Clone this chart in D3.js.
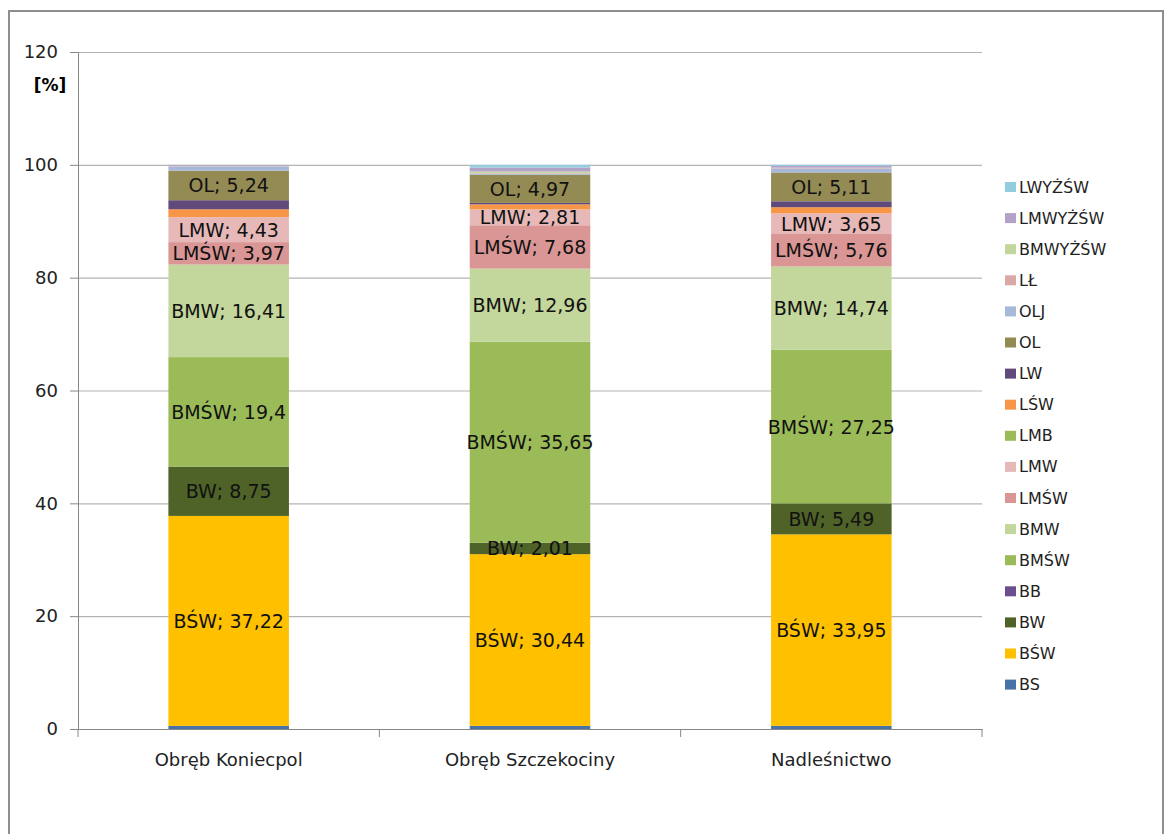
<!DOCTYPE html>
<html>
<head>
<meta charset="utf-8">
<script src="https://cdn.jsdelivr.net/npm/d3@7/dist/d3.min.js"></script>
<style>
  body { margin: 0; background: #fff; }
  svg { font-family: "DejaVu Sans", "Open Sans", sans-serif; }
</style>
</head>
<body>
<svg id="chart" width="1170" height="834"></svg>
<script>
const categories = ["Obręb Koniecpol", "Obręb Szczekociny", "Nadleśnictwo"]
const seriesNames = ["BS", "BŚW", "BW", "BB", "BMŚW", "BMW", "LMŚW", "LMW", "LMB", "LŚW", "LW", "OL", "OLJ", "LŁ", "BMWYŻŚW", "LMWYŻŚW", "LWYŻŚW"]
const seriesColors = ["#4672A8", "#FFC000", "#4F6228", "#6A4F8C", "#9BBB59", "#C3D69B", "#D99694", "#E6B9B8", "#9BBB59", "#F79646", "#604A7B", "#948A54", "#A6B9DB", "#DBA8A8", "#C3D69B", "#B3A2C7", "#93CDDD"]
// values per category, same order as seriesNames
const valuesKoniecpol = [0.55, 37.22, 8.75, 0, 19.4, 16.41, 3.97, 4.43, 0, 1.4, 1.6, 5.24, 0.75, 0.15, 0, 0.08, 0.05]
const valuesSzczekociny = [0.55, 30.44, 2.01, 0, 35.65, 12.96, 7.68, 2.81, 0, 0.9, 0.25, 4.97, 0.2, 0.1, 0.3, 0.7, 0.47]
const valuesNadlesnictwo = [0.55, 33.95, 5.49, 0, 27.25, 14.74, 5.76, 3.65, 0, 1.1, 1.05, 5.11, 0.7, 0.15, 0, 0.3, 0.2]
const labelledSeries = ["BŚW", "BW", "BMŚW", "BMW", "LMŚW", "LMW", "OL"]
const yTicks = [0, 20, 40, 60, 80, 100, 120]

const svg = d3.select("#chart")
const plot = {left: 78, right: 982, top: 52, bottom: 729}

const rows = [valuesKoniecpol, valuesSzczekociny, valuesNadlesnictwo].map((vals, i) => {
    let row = {cat: categories[i]}
    seriesNames.forEach((s, j) => row[s] = vals[j])
    return row
})

const stacked = d3.stack().keys(seriesNames)(rows)

const x = d3.scaleBand().domain(categories).range([plot.left, plot.right]).paddingInner(0.6).paddingOuter(0.3)
const y = d3.scaleLinear().domain([0, 120]).range([plot.bottom, plot.top])
const color = d3.scaleOrdinal().domain(seriesNames).range(seriesColors)

// outer frame
svg.append("rect")
    .attr("x", 9).attr("y", 11).attr("width", 1154).attr("height", 840)
    .attr("fill", "none").attr("stroke", "#8E8E8E").attr("stroke-width", 2)

// gridlines
svg.append("g").selectAll("line").data(yTicks.filter(d => d > 0)).join("line")
    .attr("x1", plot.left).attr("x2", plot.right)
    .attr("y1", d => y(d) + 0.5).attr("y2", d => y(d) + 0.5)
    .attr("stroke", "#B4B4B4").attr("stroke-width", 1.2)

// bars
svg.append("g").selectAll("g").data(stacked).join("g")
    .attr("fill", d => color(d.key))
    .selectAll("rect").data(d => d).join("rect")
    .attr("x", d => x(d.data.cat))
    .attr("width", x.bandwidth())
    .attr("y", d => y(d[1]))
    .attr("height", d => y(d[0]) - y(d[1]))

// y axis
const yAxis = svg.append("g")
    .attr("transform", `translate(${plot.left},0)`)
    .call(d3.axisLeft(y).tickValues(yTicks).tickSize(8).tickPadding(12))
    .attr("font-family", "DejaVu Sans")
yAxis.select(".domain").attr("stroke", "#868686")
yAxis.selectAll(".tick line").attr("stroke", "#868686")
yAxis.selectAll(".tick text").attr("font-size", 18).attr("fill", "#222")

// x axis
const xAxis = svg.append("g")
    .attr("transform", `translate(0,${plot.bottom})`)
    .call(d3.axisBottom(x).tickSize(0).tickPadding(24))
    .attr("font-family", "DejaVu Sans")
xAxis.select(".domain").attr("stroke", "#868686")
xAxis.selectAll(".tick text").attr("font-size", 18).attr("fill", "#222")
const boundaries = d3.range(categories.length + 1).map(i => plot.left + i * (plot.right - plot.left) / categories.length)
xAxis.selectAll(".sep").data(boundaries).join("line")
    .attr("class", "sep")
    .attr("x1", d => d).attr("x2", d => d)
    .attr("y1", 0).attr("y2", 8)
    .attr("stroke", "#868686")

// unit label
svg.append("text")
    .attr("x", 50).attr("y", 85)
    .attr("text-anchor", "middle").attr("dominant-baseline", "central")
    .attr("font-size", 17).attr("font-weight", "bold")
    .text("[%]")

// data labels
const fmt = v => String(v).replace(".", ",")
svg.append("g").selectAll("g").data(stacked.filter(s => labelledSeries.includes(s.key))).join("g")
    .each(function (s) {
        d3.select(this).selectAll("text").data(s).join("text")
            .attr("x", d => x(d.data.cat) + x.bandwidth() / 2)
            .attr("y", d => y((d[0] + d[1]) / 2))
            .attr("text-anchor", "middle")
            .attr("dominant-baseline", "central")
            .attr("font-size", 19)
            .attr("fill", "#111")
            .text(d => `${s.key}; ${fmt(d.data[s.key])}`)
    })

// legend, top item is the last series
const legendItems = seriesNames.slice().reverse()
const legend = svg.append("g").selectAll("g").data(legendItems).join("g")
    .attr("transform", (d, i) => `translate(1005,${187 + i * 31.1})`)
legend.append("rect")
    .attr("x", 0).attr("y", -5).attr("width", 11).attr("height", 10)
    .attr("fill", d => color(d))
legend.append("text")
    .attr("x", 14).attr("y", 0)
    .attr("dominant-baseline", "central")
    .attr("font-size", 16)
    .attr("fill", "#222")
    .text(d => d)
</script>
</body>
</html>
